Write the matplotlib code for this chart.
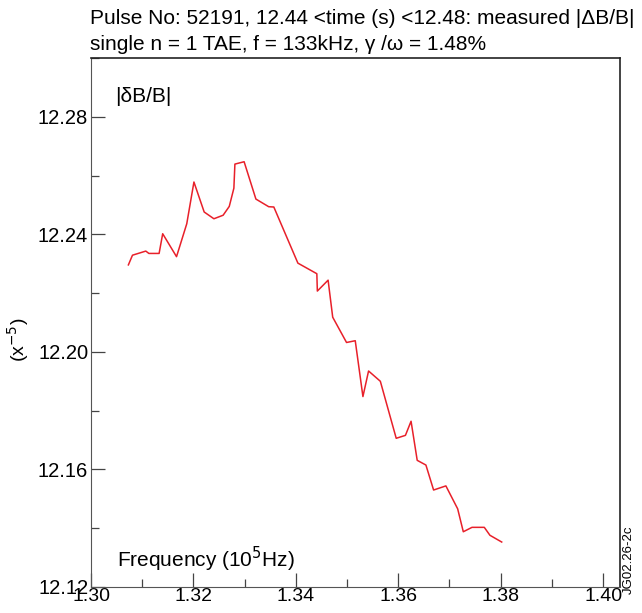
import matplotlib
matplotlib.use("Agg")
import matplotlib.pyplot as plt
from matplotlib.ticker import MultipleLocator

plt.rcParams['font.family'] = ['Liberation Sans', 'DejaVu Sans']

# frequency (10^5 Hz) and measured |dB/B| (x10^-5)
freq = [1.3073, 1.3081, 1.3107, 1.3113, 1.3133, 1.3140, 1.3167, 1.3187, 1.3201,
        1.3221, 1.3240, 1.3258, 1.3270, 1.3279, 1.3281, 1.3299, 1.3322, 1.3347,
        1.3357, 1.3404, 1.3441, 1.3442, 1.3463, 1.3472, 1.3499, 1.3516, 1.3531,
        1.3542, 1.3565, 1.3596, 1.3614, 1.3625, 1.3637, 1.3654, 1.3669, 1.3693,
        1.3716, 1.3727, 1.3744, 1.3768, 1.3779, 1.3802]
dbb = [12.2296, 12.2329, 12.2343, 12.2335, 12.2335, 12.2402, 12.2324, 12.2436, 12.2578,
       12.2476, 12.2453, 12.2465, 12.2495, 12.2557, 12.2639, 12.2647, 12.2520, 12.2494,
       12.2493, 12.2302, 12.2266, 12.2207, 12.2244, 12.2118, 12.2032, 12.2038, 12.1848,
       12.1935, 12.1900, 12.1706, 12.1716, 12.1764, 12.1631, 12.1615, 12.1530, 12.1544,
       12.1466, 12.1388, 12.1403, 12.1403, 12.1376, 12.1353]

fig = plt.figure(figsize=(6.42, 6.13), dpi=100)
ax = fig.add_axes([91/642, 1 - 587/613, (620-91)/642, (587-58)/613])

ax.plot(freq, dbb, color='#e8202a', lw=1.1)

ax.set_xlim(1.30, 1.4033)
ax.set_ylim(12.12, 12.30)
ax.xaxis.set_major_locator(MultipleLocator(0.02))
ax.xaxis.set_minor_locator(MultipleLocator(0.01))
ax.yaxis.set_major_locator(MultipleLocator(0.04))
ax.yaxis.set_minor_locator(MultipleLocator(0.02))
ax.xaxis.set_major_formatter(plt.FormatStrFormatter('%.2f'))
ax.yaxis.set_major_formatter(plt.FormatStrFormatter('%.2f'))
ax.tick_params(which='both', direction='in', top=False, right=False,
               labelsize=14.5, color='#444444')
ax.tick_params(axis='x', pad=0.5, labelsize=14)
ax.tick_params(axis='y', pad=2)
ax.tick_params(which='major', length=10, width=0.9)
ax.tick_params(which='minor', length=6, width=0.9)
for s in ['left', 'bottom']:
    ax.spines[s].set_color('#555555')
for s in ['top', 'right']:
    ax.spines[s].set_color('#222222')
    ax.spines[s].set_linewidth(1.2)

ax.text(0.045, 0.945, '|δB/B|', transform=ax.transAxes, fontsize=15, va='top', ha='left')
ax.text(0.05, 0.025, 'Frequency (10$^5$Hz)', transform=ax.transAxes, fontsize=15,
        va='bottom', ha='left')

fig.text(90/642, 1 - 18/613, 'Pulse No: 52191, 12.44 <time (s) <12.48: measured |ΔB/B|',
         fontsize=15, va='center', ha='left')
fig.text(90/642, 1 - 44/613, 'single n = 1 TAE, f = 133kHz, γ /ω = 1.48%',
         fontsize=15, va='center', ha='left')
fig.text(18/642, 1 - 340/613, '(x$^{-5}$)', rotation=90, fontsize=14,
         va='center', ha='center')
fig.text(629/642, 1 - 560/613, 'JG02.26-2c', rotation=90, fontsize=9.5,
         va='center', ha='center')

fig.savefig('out.png', dpi=100)
